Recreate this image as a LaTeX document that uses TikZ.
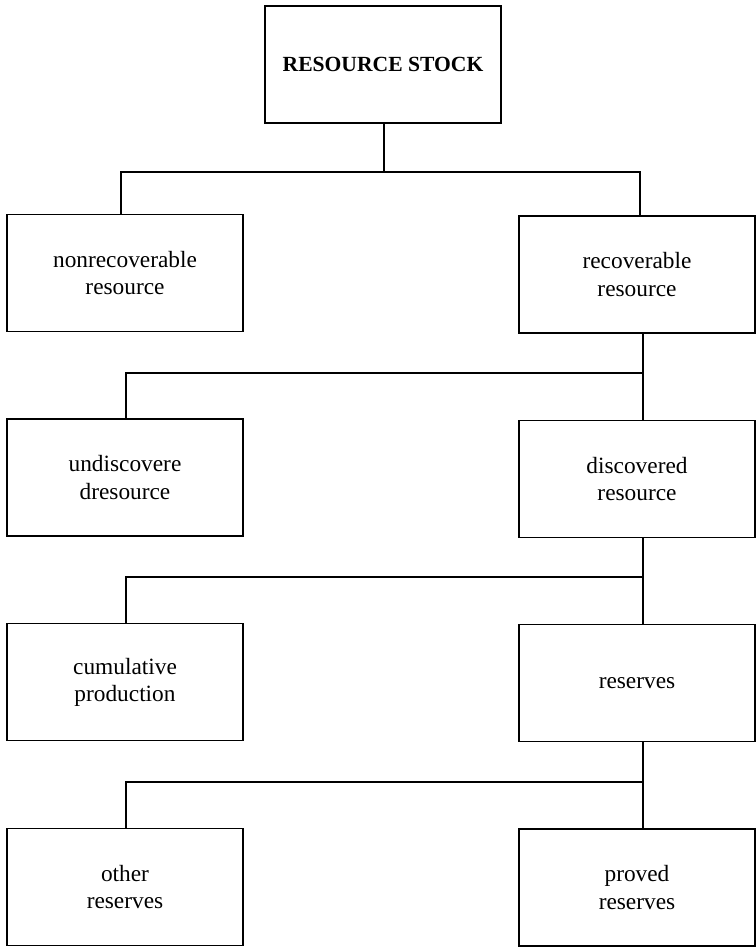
\documentclass[tikz,border=0pt]{standalone}
\usepackage{fontspec}
\setmainfont{Liberation Serif}
\usepackage{tikz}
\usetikzlibrary{positioning,calc}

\begin{document}
\begin{tikzpicture}[x=0.75pt,y=-0.75pt,
    stockbox/.style={draw,line width=1pt,rectangle,minimum width=177pt,minimum height=87.75pt,
      align=center,inner sep=0pt,font=\fontsize{17.5pt}{20.3pt}\selectfont},
    link/.style={line width=0.9pt}]
  \useasboundingbox (0,0) rectangle (756,947);
  \node[stockbox,font=\fontsize{16.2pt}{20.3pt}\selectfont\bfseries] (stock) at (383,64.5) {RESOURCE STOCK};
  \node[stockbox] (nonrec) at (125,273) {nonrecoverable\\resource};
  \node[stockbox] (recov) at (637,274.5) {recoverable\\resource};
  \node[stockbox] (undisc) at (125,477.5) {undiscovere\\dresource};
  \node[stockbox] (disc) at (637,479) {discovered\\resource};
  \node[stockbox] (cumul) at (125,682) {cumulative\\production};
  \node[stockbox] (reserves) at (637,683) {reserves};
  \node[stockbox] (other) at (125,887) {other\\reserves};
  \node[stockbox] (proved) at (637,887.5) {proved\\reserves};

  \coordinate (j1) at (384,172);
  \coordinate (j1l) at (121,172);
  \coordinate (j1r) at (640,172);
  \draw[link] (stock.south -| j1) -- (j1);
  \draw[link] (nonrec.north -| j1l) |- (j1r) -- (recov.north -| j1r);

  \foreach \pa/\ca/\cb/\lv in {recov/undisc/disc/373, disc/cumul/reserves/577, reserves/other/proved/782}{
    \coordinate (jl) at (126,\lv);
    \coordinate (jr) at (643,\lv);
    \draw[link] (\pa.south -| jr) -- (\cb.north -| jr);
    \draw[link] (\ca.north -| jl) |- (jr);
  }
\end{tikzpicture}
\end{document}
